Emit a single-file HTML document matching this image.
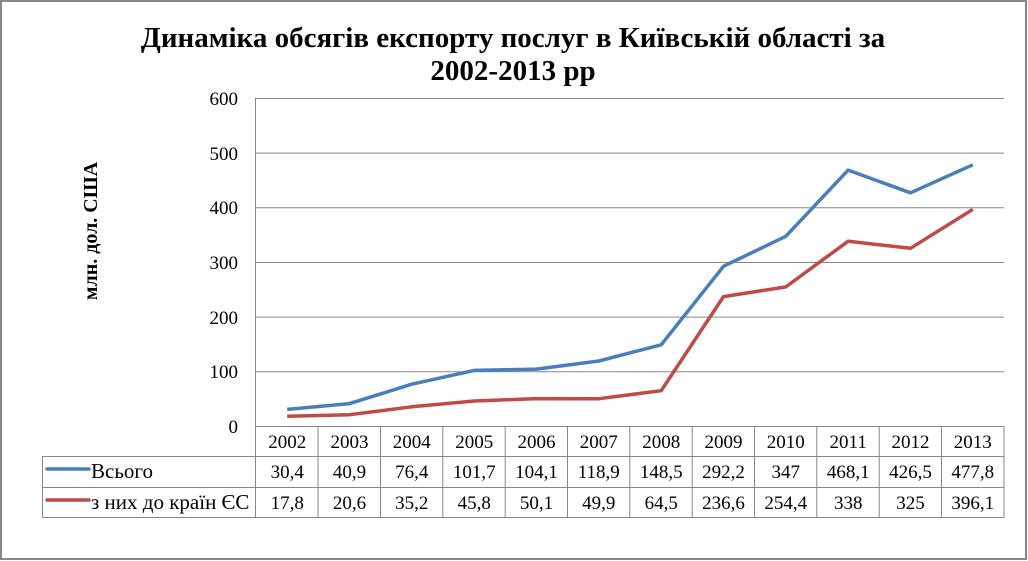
<!DOCTYPE html>
<html><head><meta charset="utf-8"><style>
html,body{margin:0;padding:0;background:#fff;}
svg{display:block;font-family:"Liberation Serif","DejaVu Serif",serif;}
</style></head><body>
<svg width="1028" height="561" viewBox="0 0 1028 561" xmlns="http://www.w3.org/2000/svg">
<rect x="1" y="1" width="1025" height="558" fill="#fff" stroke="#878787" stroke-width="2"/>
<text x="513" y="47" text-anchor="middle" font-size="29" font-weight="bold">Динаміка обсягів експорту послуг в Київській області за</text>
<text x="513" y="80" text-anchor="middle" font-size="29" font-weight="bold">2002-2013 рр</text>
<text transform="translate(97,231) rotate(-90)" text-anchor="middle" font-size="20" font-weight="bold">млн. дол. США</text>
<g stroke="#878787" stroke-width="1" fill="none">
<line x1="255.5" y1="98.5" x2="1004" y2="98.5"/>
<line x1="255.5" y1="153.1" x2="1004" y2="153.1"/>
<line x1="255.5" y1="207.8" x2="1004" y2="207.8"/>
<line x1="255.5" y1="262.5" x2="1004" y2="262.5"/>
<line x1="255.5" y1="317.1" x2="1004" y2="317.1"/>
<line x1="255.5" y1="371.8" x2="1004" y2="371.8"/>
<line x1="255.5" y1="98" x2="255.5" y2="517.5"/>
<line x1="255.5" y1="426.5" x2="1004.5" y2="426.5"/>
<line x1="42.5" y1="456.5" x2="1004.5" y2="456.5"/>
<line x1="42.5" y1="487.5" x2="1004.5" y2="487.5"/>
<line x1="42.5" y1="517.5" x2="1004.5" y2="517.5"/>
<line x1="42.5" y1="456" x2="42.5" y2="518"/>
<line x1="318" y1="426" x2="318" y2="518"/>
<line x1="380.5" y1="426" x2="380.5" y2="518"/>
<line x1="442.8" y1="426" x2="442.8" y2="518"/>
<line x1="505.2" y1="426" x2="505.2" y2="518"/>
<line x1="567.5" y1="426" x2="567.5" y2="518"/>
<line x1="629.8" y1="426" x2="629.8" y2="518"/>
<line x1="692.2" y1="426" x2="692.2" y2="518"/>
<line x1="754.5" y1="426" x2="754.5" y2="518"/>
<line x1="816.8" y1="426" x2="816.8" y2="518"/>
<line x1="879.2" y1="426" x2="879.2" y2="518"/>
<line x1="941.5" y1="426" x2="941.5" y2="518"/>
<line x1="1004" y1="426" x2="1004" y2="518"/>
</g>
<g font-size="19" text-anchor="end">
<text x="238" y="105">600</text>
<text x="238" y="160">500</text>
<text x="238" y="214">400</text>
<text x="238" y="269">300</text>
<text x="238" y="324">200</text>
<text x="238" y="378">100</text>
<text x="238" y="433">0</text>
</g>
<polyline fill="none" stroke="#4a7ebb" stroke-width="3.5" stroke-linejoin="round" points="287.2,409.4 349.5,403.6 411.8,384.2 474.2,370.4 536.5,369.1 598.8,361 661.2,344.8 723.5,266.3 785.8,236.3 848.2,170.1 910.5,192.8 972.8,164.8"/>
<polyline fill="none" stroke="#be4b48" stroke-width="3.5" stroke-linejoin="round" points="287.2,416.3 349.5,414.7 411.8,406.8 474.2,401 536.5,398.6 598.8,398.7 661.2,390.7 723.5,296.6 785.8,286.9 848.2,241.2 910.5,248.3 972.8,209.4"/>
<line x1="47" y1="469" x2="89" y2="469" stroke="#4a7ebb" stroke-width="3.5" stroke-linecap="round"/>
<line x1="47" y1="500" x2="89" y2="500" stroke="#be4b48" stroke-width="3.5" stroke-linecap="round"/>
<g font-size="21" style="font-family:'Liberation Serif',serif">
<text x="91" y="478">Всього</text>
<text x="91" y="509">з них до країн ЄС</text>
</g>
<g font-size="19" text-anchor="middle">
<text x="287.2" y="448">2002</text><text x="349.5" y="448">2003</text><text x="411.8" y="448">2004</text><text x="474.2" y="448">2005</text><text x="536.5" y="448">2006</text><text x="598.8" y="448">2007</text><text x="661.2" y="448">2008</text><text x="723.5" y="448">2009</text><text x="785.8" y="448">2010</text><text x="848.2" y="448">2011</text><text x="910.5" y="448">2012</text><text x="972.8" y="448">2013</text>
<text x="287.2" y="478">30,4</text><text x="349.5" y="478">40,9</text><text x="411.8" y="478">76,4</text><text x="474.2" y="478">101,7</text><text x="536.5" y="478">104,1</text><text x="598.8" y="478">118,9</text><text x="661.2" y="478">148,5</text><text x="723.5" y="478">292,2</text><text x="785.8" y="478">347</text><text x="848.2" y="478">468,1</text><text x="910.5" y="478">426,5</text><text x="972.8" y="478">477,8</text>
<text x="287.2" y="509">17,8</text><text x="349.5" y="509">20,6</text><text x="411.8" y="509">35,2</text><text x="474.2" y="509">45,8</text><text x="536.5" y="509">50,1</text><text x="598.8" y="509">49,9</text><text x="661.2" y="509">64,5</text><text x="723.5" y="509">236,6</text><text x="785.8" y="509">254,4</text><text x="848.2" y="509">338</text><text x="910.5" y="509">325</text><text x="972.8" y="509">396,1</text>
</g>
</svg>
</body></html>
